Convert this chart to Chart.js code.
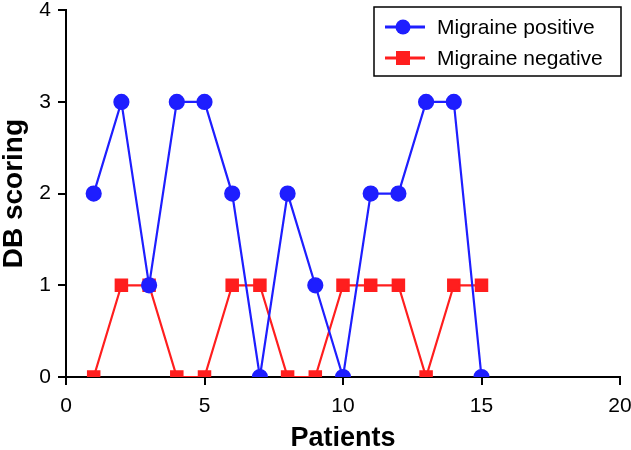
<!DOCTYPE html>
<html>
<head>
<meta charset="UTF-8">
<script src="https://cdn.jsdelivr.net/npm/chart.js"></script>
<style>
  body { margin: 0; background: #fff; }
  #wrap { width: 631px; height: 450px; }
</style>
</head>
<body>
<div id="wrap"><canvas id="c" width="631" height="450"></canvas></div>
<script>
  const patients = [1, 2, 3, 4, 5, 6, 7, 8, 9, 10, 11, 12, 13, 14, 15];
  const migrainePositive = [2, 3, 1, 3, 3, 2, 0, 2, 1, 0, 2, 2, 3, 3, 0];
  const migraineNegative = [0, 1, 1, 0, 0, 1, 1, 0, 0, 1, 1, 1, 0, 1, 1];
  const seriesLabels = ['Migraine positive', 'Migraine negative'];

  const font = "'Liberation Sans', Arial, sans-serif";

  // legend drawn as a framed box inside the plot, like the original
  const boxLegend = {
    id: 'boxLegend',
    afterDraw(chart) {
      const ctx = chart.ctx;
      const x = 374, y = 7, w = 247, h = 69;
      ctx.save();
      ctx.fillStyle = '#fff';
      ctx.fillRect(x, y, w, h);
      ctx.strokeStyle = '#000';
      ctx.lineWidth = 1.5;
      ctx.strokeRect(x, y, w, h);
      chart.data.datasets.forEach((ds, i) => {
        const cy = y + 20 + i * 31;
        ctx.strokeStyle = ds.borderColor;
        ctx.lineWidth = 3;
        ctx.beginPath();
        ctx.moveTo(385, cy);
        ctx.lineTo(425, cy);
        ctx.stroke();
        ctx.fillStyle = ds.backgroundColor;
        if (ds.pointStyle === 'rect') {
          ctx.fillRect(403 - 7, cy - 7, 14, 14);
        } else {
          ctx.beginPath();
          ctx.arc(403, cy, 7.5, 0, Math.PI * 2);
          ctx.fill();
        }
        ctx.fillStyle = '#000';
        ctx.font = '21px ' + font;
        ctx.textBaseline = 'middle';
        ctx.fillText(ds.label, 437, cy + 1);
      });
      ctx.restore();
    }
  };

  new Chart(document.getElementById('c'), {
    type: 'line',
    data: {
      datasets: [
        {
          label: seriesLabels[0],
          data: patients.map((p, i) => ({ x: p, y: migrainePositive[i] })),
          borderColor: '#1e1eff',
          backgroundColor: '#1e1eff',
          borderWidth: 2.2,
          pointStyle: 'circle',
          pointRadius: 7,
          pointHoverRadius: 7,
          tension: 0
        },
        {
          label: seriesLabels[1],
          data: patients.map((p, i) => ({ x: p, y: migraineNegative[i] })),
          borderColor: '#ff1e1e',
          backgroundColor: '#ff1e1e',
          borderWidth: 2.2,
          pointStyle: 'rect',
          pointRadius: 8,
          pointHoverRadius: 8,
          tension: 0
        }
      ]
    },
    options: {
      responsive: false,
      animation: false,
      layout: { padding: { top: 8, right: 11, left: 0, bottom: 0 } },
      plugins: { legend: { display: false }, tooltip: { enabled: false } },
      scales: {
        x: {
          type: 'linear',
          min: 0, max: 20,
          ticks: { stepSize: 5, color: '#000', font: { family: font, size: 21 }, padding: 9 },
          grid: { drawOnChartArea: false, color: '#000', tickLength: 8, lineWidth: 2 },
          border: { color: '#000', width: 2 },
          title: { display: true, text: 'Patients', color: '#000', font: { family: font, size: 27, weight: 'bold', lineHeight: 1 }, padding: { top: 4, bottom: -2 } },
          afterFit(s) { s.height = 73; s.paddingLeft = 0; s.paddingRight = 0; }
        },
        y: {
          min: 0, max: 4,
          ticks: { stepSize: 1, color: '#000', font: { family: font, size: 21 }, padding: 7 },
          grid: { drawOnChartArea: false, color: '#000', tickLength: 8, lineWidth: 2 },
          border: { color: '#000', width: 2 },
          title: { display: true, text: 'DB scoring', color: '#000', font: { family: font, size: 28, weight: 'bold', lineHeight: 1 }, padding: { top: 0, bottom: 0 } },
          afterFit(s) { s.width = 66; s.paddingTop = 0; s.paddingBottom = 0; }
        }
      }
    },
    plugins: [boxLegend]
  });
</script>
</body>
</html>
